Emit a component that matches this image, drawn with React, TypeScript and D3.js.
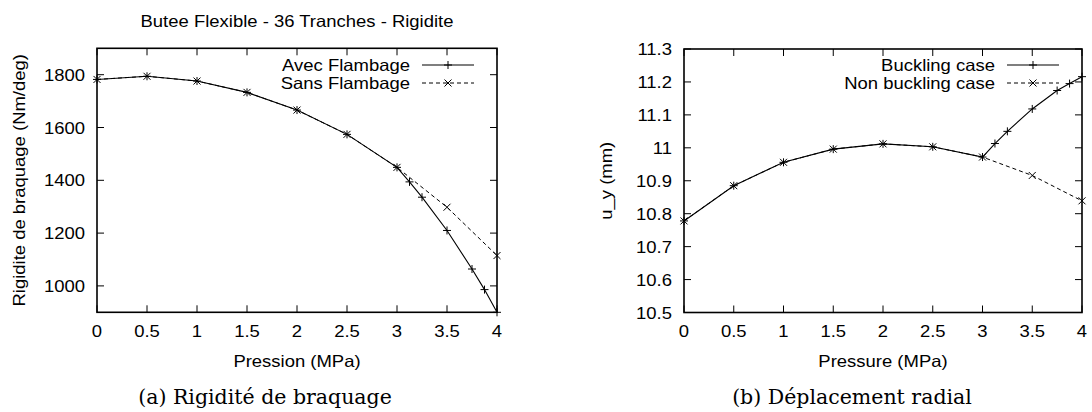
import React from "react";
import * as d3 from "d3";

// ---- data ----
const pressureBuckling = [0, 0.5, 1, 1.5, 2, 2.5, 3, 3.125, 3.25, 3.5, 3.75, 3.875, 4];
const pressureNonBuckling = [0, 0.5, 1, 1.5, 2, 2.5, 3, 3.5, 4];
const rigiditeAvec = [1782, 1794, 1776, 1733, 1666, 1574, 1449, 1394, 1336, 1210, 1064, 986, 900];
const rigiditeSans = [1782, 1794, 1776, 1733, 1666, 1574, 1449, 1298, 1115];
const uyBuckling = [10.778, 10.885, 10.956, 10.996, 11.012, 11.003, 10.972, 11.013, 11.05, 11.118, 11.174, 11.195, 11.216];
const uyNonBuckling = [10.778, 10.885, 10.956, 10.996, 11.012, 11.003, 10.972, 10.916, 10.839];
const xTicks = [0, 0.5, 1, 1.5, 2, 2.5, 3, 3.5, 4];
const yTicksRigidite = [1000, 1200, 1400, 1600, 1800];
const yTicksUy = [10.5, 10.6, 10.7, 10.8, 10.9, 11, 11.1, 11.2, 11.3];

const SANS = "'Liberation Sans', Arial, Helvetica, sans-serif";
const SERIF = "'DejaVu Serif', serif";
const FS = 16.5;
const SX = 1.12;

function T({ x, y, children, anchor = "middle", rotate = 0, size = FS, base = "auto" }: any) {
  return (
    <text
      transform={`translate(${x},${y}) rotate(${rotate}) scale(${SX},1)`}
      textAnchor={anchor}
      dominantBaseline={base}
      fontFamily={SANS}
      fontSize={size}
      fill="#000"
    >
      {children}
    </text>
  );
}

function Plus({ x, y }: any) {
  const s = 4;
  return <path d={`M${x - s},${y}H${x + s}M${x},${y - s}V${y + s}`} stroke="#000" strokeWidth={1} fill="none" />;
}
function Cross({ x, y }: any) {
  const s = 3.5;
  return <path d={`M${x - s},${y - s}L${x + s},${y + s}M${x - s},${y + s}L${x + s},${y - s}`} stroke="#000" strokeWidth={1} fill="none" />;
}

function Panel({ x0, x1, y0, y1, yDomain, yTicks, yFmt, s1, s2, leg1, leg2, title, yLabel, yLabelX, xLabel, caption, captionX, tickEnd }: any) {
  const x = d3.scaleLinear().domain([0, 4]).range([x0, x1]);
  const y = d3.scaleLinear().domain(yDomain).range([y1, y0]);
  const line = d3.line<[number, number]>().x((d) => x(d[0])).y((d) => y(d[1]));
  const tl = 7;
  const cx = (x0 + x1) / 2;
  const cy = (y0 + y1) / 2;
  const legX = x1 - 87;
  const legRows = [65, 83];
  return (
    <g>
      {title && <T x={cx} y={27}>{title}</T>}
      {/* ticks */}
      {xTicks.map((t) => (
        <g key={"x" + t}>
          <line x1={x(t)} x2={x(t)} y1={y1} y2={y1 - tl} stroke="#000" />
          <line x1={x(t)} x2={x(t)} y1={y0} y2={y0 + tl} stroke="#000" />
          <T x={x(t)} y={337}>{String(t)}</T>
        </g>
      ))}
      {yTicks.map((t: number) => (
        <g key={"y" + t}>
          <line x1={x0} x2={x0 + tl} y1={y(t)} y2={y(t)} stroke="#000" />
          <line x1={x1} x2={x1 - tl} y1={y(t)} y2={y(t)} stroke="#000" />
          <T x={tickEnd} y={y(t) + 6}  anchor="end">{yFmt(t)}</T>
        </g>
      ))}
      {/* series */}
      <path d={line(s1.px.map((p: number, i: number) => [p, s1.v[i]]))!} fill="none" stroke="#000" strokeWidth={1.1} />
      <path d={line(s2.px.map((p: number, i: number) => [p, s2.v[i]]))!} fill="none" stroke="#000" strokeWidth={1} strokeDasharray="4,3" />
      {s1.px.map((p: number, i: number) => <Plus key={"p" + i} x={x(p)} y={y(s1.v[i])} />)}
      {s2.px.map((p: number, i: number) => <Cross key={"c" + i} x={x(p)} y={y(s2.v[i])} />)}
      {/* legend */}
      <T x={legX} y={legRows[0] + 6} anchor="end">{leg1}</T>
      <line x1={legX + 12} x2={legX + 64} y1={legRows[0]} y2={legRows[0]} stroke="#000" strokeWidth={1.1} />
      <Plus x={legX + 38} y={legRows[0]} />
      <T x={legX} y={legRows[1] + 6} anchor="end">{leg2}</T>
      <line x1={legX + 12} x2={legX + 64} y1={legRows[1]} y2={legRows[1]} stroke="#000" strokeWidth={1} strokeDasharray="4,3" />
      <Cross x={legX + 38} y={legRows[1]} />
      {/* frame */}
      <rect x={x0} y={y0} width={x1 - x0} height={y1 - y0} fill="none" stroke="#000" strokeWidth={1.6} />
      {/* labels */}
      <T x={yLabelX} y={cy} rotate={-90}>{yLabel}</T>
      <T x={cx} y={367}>{xLabel}</T>
      <text x={captionX} y={404} textAnchor="middle" fontFamily={SERIF} fontSize={20.5} fill="#000">{caption}</text>
    </g>
  );
}

export default function App() {
  return (
    <svg width={1092} height={412} style={{ position: "absolute", left: 0, top: 0, background: "#fff" }}>
      <rect width={1092} height={412} fill="#fff" />
      <Panel
        x0={97} x1={497} y0={48.3} y1={312.3}
        yDomain={[900, 1900]} yTicks={yTicksRigidite} yFmt={(v: number) => String(v)}
        s1={{ px: pressureBuckling, v: rigiditeAvec }}
        s2={{ px: pressureNonBuckling, v: rigiditeSans }}
        leg1="Avec Flambage" leg2="Sans Flambage"
        title="Butee Flexible - 36 Tranches - Rigidite"
        yLabel="Rigidite de braquage (Nm/deg)" yLabelX={25}
        xLabel="Pression (MPa)"
        caption="(a) Rigidité de braquage" captionX={265}
        tickEnd={85}
      />
      <Panel
        x0={684} x1={1082} y0={49} y1={312.5}
        yDomain={[10.5, 11.3]} yTicks={yTicksUy} yFmt={(v: number) => String(+v.toFixed(1))}
        s1={{ px: pressureBuckling, v: uyBuckling }}
        s2={{ px: pressureNonBuckling, v: uyNonBuckling }}
        leg1="Buckling case" leg2="Non buckling case"
        title={null}
        yLabel="u_y (mm)" yLabelX={612}
        xLabel="Pressure (MPa)"
        caption="(b) Déplacement radial" captionX={852}
        tickEnd={672}
      />
    </svg>
  );
}
